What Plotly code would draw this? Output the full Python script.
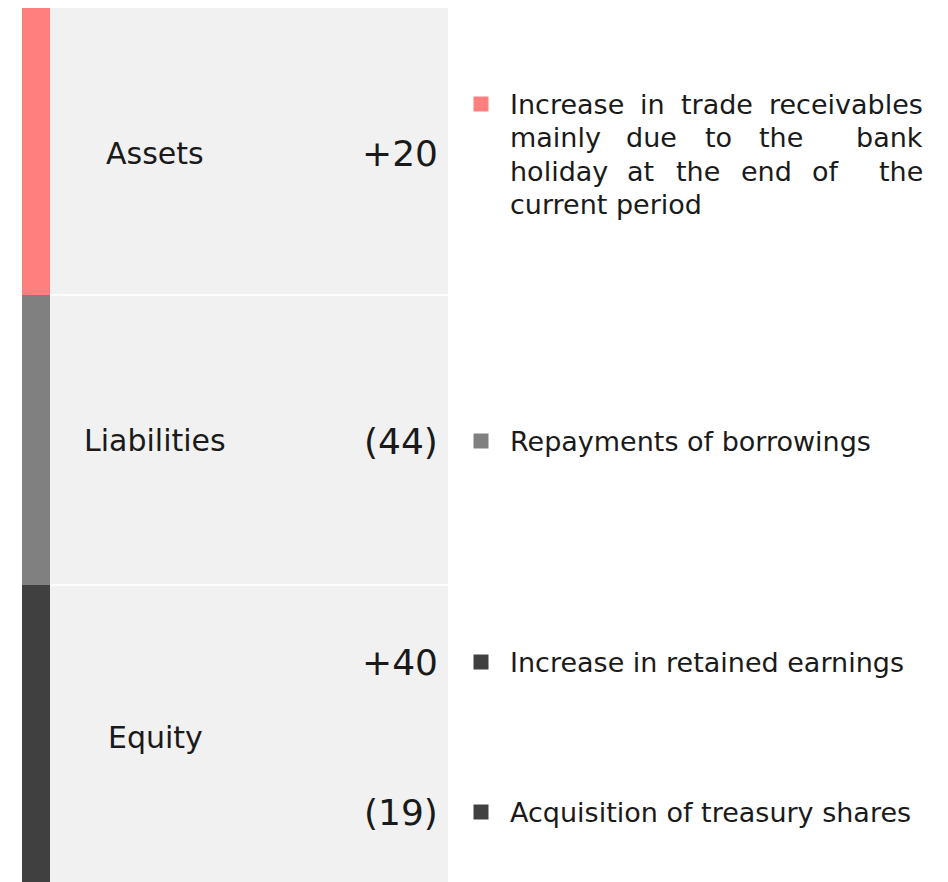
import plotly.graph_objects as go

# Data
categories = ["Assets", "Liabilities", "Equity"]
category_colors = ["#FF7F7F", "#808080", "#404040"]

item_category = ["Assets", "Liabilities", "Equity", "Equity"]
item_values = [20, -44, 40, -19]
item_notes = [
    ["Increase in trade receivables",
     "mainly due to the  bank",
     "holiday at the end of  the",
     "current period"],
    ["Repayments of borrowings"],
    ["Increase in retained earnings"],
    ["Acquisition of treasury shares"],
]

# Layout (page pixel coordinates; the page body has an 8px margin)
W, H = 948, 882
PAD = 8
row_bounds = [6, 295, 585, 882]
label_y = [153, 440, 737]
value_y = [153, 441, 662, 812]
note_y = [104, 441, 662, 812]
line_gap = 33.5
note_x0, note_x1 = 508, 925
font = "DejaVu Sans"
text_color = "#1a1a1a"
note_size = 27

# approximate DejaVu Sans advance widths (em) for justification
char_w = {
    'a': .613, 'b': .635, 'c': .550, 'd': .635, 'e': .615, 'f': .352, 'g': .635,
    'h': .634, 'i': .278, 'j': .278, 'k': .579, 'l': .278, 'm': .974, 'n': .634,
    'o': .612, 'p': .635, 'q': .635, 'r': .411, 's': .521, 't': .392, 'u': .634,
    'v': .592, 'w': .818, 'x': .592, 'y': .592, 'z': .525, 'I': .295, 'A': .684,
    'R': .695, ' ': .318,
}


def text_width(s, size):
    return sum(char_w.get(ch, 0.6) for ch in s) * size


def fmt_value(v):
    return f"+{v}" if v > 0 else f"({abs(v)})"


fig = go.Figure()
shapes = []
annotations = []

# Row panels and colored strips
for i, cat in enumerate(categories):
    y0, y1 = row_bounds[i], row_bounds[i + 1]
    shapes.append(dict(type="rect", xref="x", yref="y", x0=22, x1=50, y0=y0, y1=y1,
                       fillcolor=category_colors[i], line=dict(width=0), layer="below"))
    shapes.append(dict(type="rect", xref="x", yref="y", x0=50, x1=448, y0=y0, y1=y1,
                       fillcolor="#F1F1F1", line=dict(width=0), layer="below"))
    annotations.append(dict(x=155, y=label_y[i], text=cat, showarrow=False,
                            xanchor="center", yanchor="middle",
                            font=dict(family=font, size=30, color=text_color)))

# white separators between rows
for b in row_bounds[1:-1]:
    shapes.append(dict(type="line", xref="x", yref="y", x0=50, x1=448, y0=b, y1=b,
                       line=dict(color="#FFFFFF", width=1.5), layer="below"))

# Values and notes
for j, cat in enumerate(item_category):
    annotations.append(dict(x=440, y=value_y[j], text=fmt_value(item_values[j]),
                            showarrow=False, xanchor="right", yanchor="middle",
                            font=dict(family=font, size=36, color=text_color)))
    lines = item_notes[j]
    for k, line in enumerate(lines):
        y = note_y[j] + k * line_gap
        justify = len(lines) > 1 and k < len(lines) - 1
        if not justify:
            annotations.append(dict(x=note_x0, y=y, text=line, showarrow=False,
                                    xanchor="left", yanchor="middle",
                                    font=dict(family=font, size=note_size, color=text_color)))
            continue
        # justified line: spread extra width over the space characters
        tokens = line.split(" ")
        n_space = line.count(" ")
        words_w = sum(text_width(t, note_size) for t in tokens)
        gap = (note_x1 - note_x0 - words_w) / n_space
        cursor = note_x0
        n_words = len([t for t in tokens if t])
        placed = 0
        for t in tokens:
            if t:
                w = text_width(t, note_size)
                if placed == 0:
                    x, anchor = note_x0, "left"
                elif placed == n_words - 1:
                    x, anchor = note_x1, "right"
                else:
                    x, anchor = cursor + w / 2, "center"
                annotations.append(dict(x=x, y=y, text=t, showarrow=False,
                                        xanchor=anchor, yanchor="middle",
                                        font=dict(family=font, size=note_size, color=text_color)))
                cursor += w
                placed += 1
            cursor += gap

# Bullets
fig.add_trace(go.Scatter(
    x=[481] * len(item_category),
    y=note_y,
    mode="markers",
    marker=dict(symbol="square", size=15,
                color=[category_colors[categories.index(c)] for c in item_category]),
    hoverinfo="skip",
    showlegend=False,
))

fig.update_layout(
    width=W - PAD, height=H - PAD,
    margin=dict(l=0, r=0, t=0, b=0),
    paper_bgcolor="white", plot_bgcolor="white",
    xaxis=dict(range=[PAD, W], visible=False, fixedrange=True),
    yaxis=dict(range=[H, PAD], visible=False, fixedrange=True),
    shapes=shapes,
    annotations=annotations,
    showlegend=False,
)

fig.write_html("out.html")
